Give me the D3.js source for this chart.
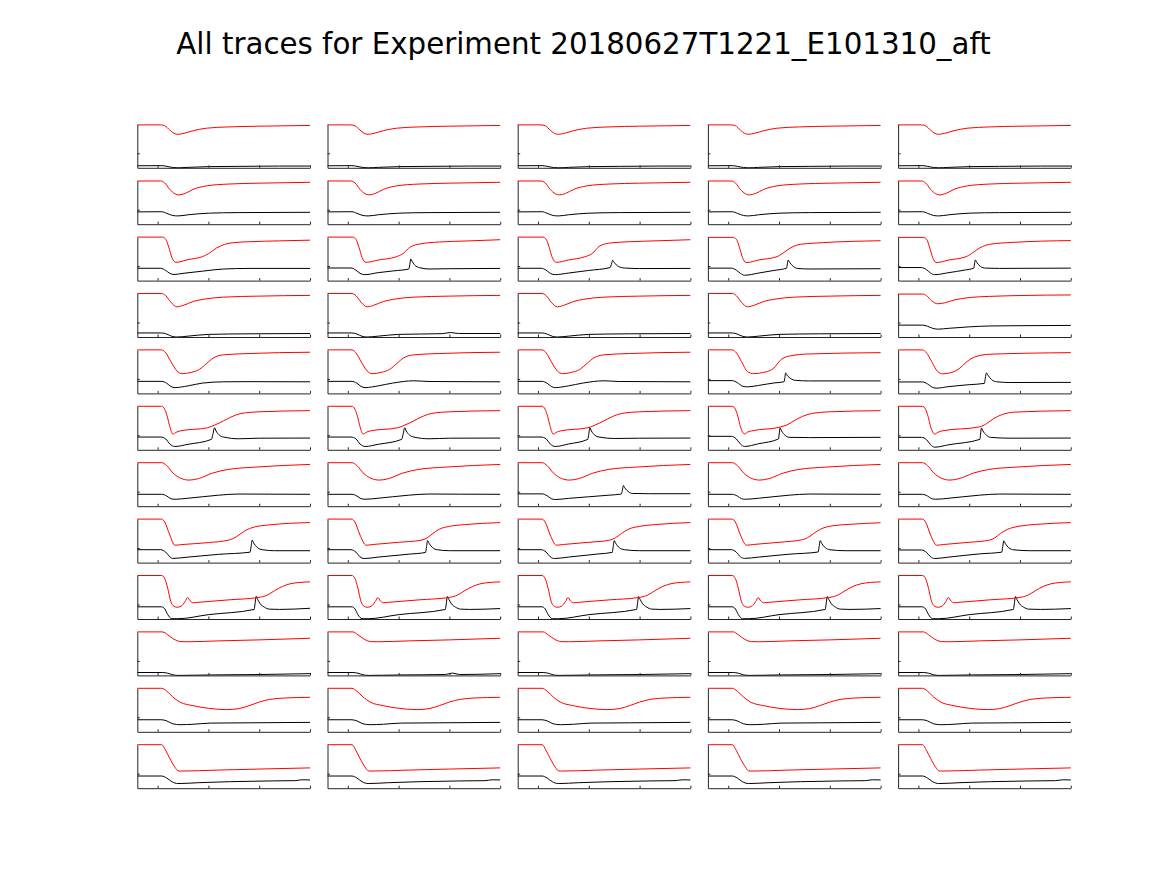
<!DOCTYPE html>
<html>
<head>
<meta charset="utf-8">
<script src="https://cdn.jsdelivr.net/npm/d3@7"></script>
<style>
  body { margin: 0; background: #fff; }
  svg { display: block; }
</style>
</head>
<body>
<div id="chart"></div>
<script>
// Textos
const TITLE = 'All traces for Experiment 20180627T1221_E101310_aft';
const X_TICKS = [0, 5, 10, 15];
const Y_TICKS = [1];

// Traços: pares [tempo, valor]
const R1_RED = [[-2,2.96],[0.3,2.96],[0.7,2.9],[1.2,2.6],[1.6,2.38],[2.0,2.31],[2.6,2.38],[3.5,2.56],[4.8,2.73],[7,2.82],[10,2.87],[15,2.92]];
const R1_BLK = [[-2,0.14],[0.4,0.15],[0.9,0.1],[1.5,0.02],[2.0,0.0],[3,0.03],[5,0.08],[8,0.1],[12,0.12],[15,0.12]];

const R2_RED = [[-2,2.98],[0.3,2.98],[0.7,2.85],[1.2,2.4],[1.7,2.1],[2.1,2.02],[2.7,2.12],[3.5,2.4],[4.8,2.64],[7,2.77],[10,2.83],[15,2.89]];
const R2_BLK = [[-2,0.85],[0.4,0.86],[0.9,0.75],[1.5,0.6],[2.0,0.57],[3,0.65],[5,0.76],[8,0.8],[15,0.82]];

const R3C1_RED = [[-2,3],[0.5,3],[0.8,2.85],[1.1,2.3],[1.4,1.6],[1.8,1.26],[3,1.45],[4.4,1.65],[5.0,1.85],[5.8,2.25],[6.6,2.5],[7.5,2.62],[9,2.68],[12,2.74],[15,2.79]];
const R3C1_BLK = [[-2,0.85],[0.3,0.85],[0.8,0.7],[1.2,0.5],[1.6,0.42],[2.5,0.5],[4.4,0.65],[6.5,0.8],[9,0.84],[15,0.84]];
const R3C2_RED = [[-2,3],[0.5,3],[0.8,2.85],[1.1,2.3],[1.4,1.6],[1.8,1.26],[3,1.42],[4.7,1.63],[5.5,1.9],[6.1,2.3],[7.2,2.54],[9,2.66],[12,2.74],[15,2.82]];
const R3C2_BLK = [[-2,0.87],[0.3,0.87],[0.8,0.72],[1.2,0.5],[1.65,0.41],[3,0.55],[4.5,0.67],[6.0,0.8],[6.1,1.1],[6.2,1.49],[6.35,1.3],[6.7,1.0],[7.2,0.87],[8,0.8],[10,0.82],[15,0.84]];
const R3C3_RED = [[-2,3],[0.5,3],[0.8,2.85],[1.1,2.3],[1.4,1.6],[1.8,1.26],[3,1.42],[4.6,1.64],[5.3,1.85],[6.1,2.4],[7.2,2.6],[9,2.68],[12,2.75],[15,2.82]];
const R3C3_BLK = [[-2,0.85],[0.3,0.85],[0.8,0.72],[1.2,0.5],[1.7,0.41],[3,0.52],[5,0.7],[7.1,0.9],[7.25,1.2],[7.35,1.4],[7.5,1.25],[7.9,0.98],[8.5,0.87],[10,0.83],[15,0.84]];
const R3C4_RED = [[-2,2.98],[0.45,2.98],[0.8,2.85],[1.1,2.3],[1.4,1.6],[1.76,1.24],[3,1.42],[4.8,1.65],[5.3,1.85],[5.8,2.1],[6.4,2.35],[7.1,2.5],[9.4,2.62],[15,2.75]];
const R3C4_BLK = [[-2,0.86],[0.3,0.86],[0.8,0.72],[1.2,0.5],[1.6,0.37],[3,0.52],[4.5,0.7],[5.75,0.86],[5.82,1.15],[5.9,1.42],[6.05,1.25],[6.4,0.98],[6.8,0.84],[8,0.8],[15,0.82]];
const R3C5_RED = [[-2,2.98],[0.45,2.98],[0.8,2.85],[1.1,2.3],[1.4,1.6],[1.74,1.24],[3,1.42],[4.7,1.65],[5.2,1.85],[5.7,2.1],[6.3,2.35],[7.0,2.5],[9.4,2.64],[15,2.76]];
const R3C5_BLK = [[-2,0.9],[0.3,0.9],[0.8,0.75],[1.2,0.52],[1.6,0.41],[3,0.55],[4.5,0.72],[5.45,0.86],[5.52,1.15],[5.6,1.42],[5.75,1.25],[6.1,0.98],[6.6,0.86],[8,0.84],[15,0.86]];

const R4_RED = [[-2,3],[0.4,3],[0.8,2.85],[1.3,2.4],[1.9,2.08],[2.6,2.2],[3.5,2.45],[4.5,2.6],[6.5,2.75],[10,2.82],[15,2.87]];
const R4_BLK = [[-2,0.28],[0.4,0.28],[0.9,0.2],[1.4,0.05],[1.9,0.0],[3,0.06],[5,0.18],[9,0.22],[15,0.24]];
const R4C2_BLK = [[-2,0.28],[0.4,0.28],[0.9,0.2],[1.4,0.05],[1.9,0.0],[3,0.06],[5,0.18],[9.3,0.23],[10.1,0.31],[10.9,0.24],[15,0.24]];
const R4C5_RED = [[-2,2.96],[0.4,2.96],[0.8,2.85],[1.3,2.5],[1.9,2.29],[2.6,2.36],[3.5,2.55],[5,2.72],[7,2.8],[10,2.86],[15,2.9]];
const R4C5_BLK = [[-2,0.82],[0.4,0.82],[0.9,0.74],[1.4,0.6],[1.9,0.54],[3,0.6],[5,0.7],[7,0.76],[10,0.78],[15,0.8]];

const R5_RED = [[-2,3],[0.4,3],[0.8,2.8],[1.3,2.2],[1.9,1.55],[2.4,1.36],[3.3,1.45],[4.1,1.65],[4.8,2.05],[5.5,2.45],[6.5,2.66],[9,2.75],[15,2.84]];
const R5_BLK = [[-2,0.83],[0.4,0.83],[0.9,0.7],[1.3,0.48],[1.7,0.4],[3,0.52],[4.4,0.71],[6.5,0.8],[9,0.81],[15,0.8]];
const R5C2_BLK = [[-2,0.83],[0.4,0.83],[0.9,0.7],[1.3,0.48],[1.7,0.4],[3,0.52],[4.4,0.71],[6.5,0.87],[8,0.82],[15,0.8]];
const R5C4_RED = [[-2,3],[0.4,3],[0.8,2.8],[1.3,2.2],[1.9,1.5],[2.5,1.36],[3.5,1.45],[4.5,1.75],[5.15,2.3],[6.1,2.59],[8,2.72],[15,2.81]];
const R5C4_BLK = [[-2,0.88],[0.4,0.88],[0.9,0.74],[1.4,0.5],[1.9,0.45],[3,0.55],[4.5,0.72],[5.5,0.8],[5.58,1.1],[5.65,1.41],[5.8,1.25],[6.2,1.0],[6.6,0.9],[8,0.86],[15,0.86]];
const R5C5_RED = [[-2,3],[0.4,3],[0.8,2.8],[1.3,2.2],[1.9,1.5],[2.4,1.35],[3.3,1.45],[4.0,1.7],[4.7,2.15],[5.5,2.5],[7,2.7],[15,2.81]];
const R5C5_BLK = [[-2,0.79],[0.4,0.79],[0.9,0.65],[1.3,0.45],[1.74,0.36],[3,0.47],[5,0.6],[6.5,0.69],[6.58,1.05],[6.7,1.41],[6.85,1.25],[7.2,0.95],[7.7,0.8],[9,0.75],[15,0.76]];

const R6_RED = [[-2,3],[0.4,3],[0.7,2.8],[0.95,2.3],[1.2,1.6],[1.5,1.08],[1.8,1.2],[2.2,1.3],[4.9,1.52],[5.6,1.7],[6.5,2.0],[7.2,2.25],[8.2,2.5],[10,2.62],[15,2.7]];
const R6C1_BLK = [[-2,0.88],[0.3,0.88],[0.8,0.75],[1.2,0.4],[1.7,0.23],[3,0.38],[5.3,0.72],[5.45,1.1],[5.6,1.52],[5.75,1.3],[6.1,1.0],[6.5,0.88],[8,0.76],[10,0.8],[15,0.81]];
const R6C3_BLK = [[-2,0.88],[0.3,0.88],[0.8,0.75],[1.2,0.4],[1.7,0.23],[3,0.4],[4.9,0.72],[5.0,1.1],[5.1,1.52],[5.25,1.3],[5.6,1.0],[6.0,0.88],[7.5,0.78],[10,0.8],[15,0.81]];
const R6C4_RED = [[-2,3],[0.4,3],[0.7,2.8],[0.95,2.3],[1.2,1.6],[1.6,1.09],[1.9,1.22],[2.3,1.3],[5.0,1.55],[5.8,1.72],[6.6,2.05],[7.3,2.3],[8.2,2.5],[10,2.62],[15,2.7]];
const R6C4_BLK = [[-2,0.93],[0.3,0.93],[0.8,0.75],[1.2,0.4],[1.6,0.23],[3,0.42],[4.95,0.75],[5.02,1.1],[5.1,1.5],[5.25,1.3],[5.6,1.0],[6.0,0.86],[8,0.84],[15,0.86]];
const R6C5_RED = [[-2,3],[0.4,3],[0.7,2.8],[0.95,2.3],[1.2,1.6],[1.6,1.08],[1.9,1.2],[2.3,1.3],[6.0,1.58],[6.7,1.8],[7.4,2.15],[8.2,2.42],[9.5,2.6],[15,2.7]];
const R6C5_BLK = [[-2,0.86],[0.3,0.86],[0.8,0.7],[1.2,0.35],[1.6,0.18],[3,0.35],[6.05,0.72],[6.12,1.1],[6.2,1.5],[6.35,1.3],[6.7,1.0],[7.1,0.86],[9,0.8],[15,0.81]];

const R7_RED = [[-2,3],[0.4,3],[0.9,2.8],[1.5,2.3],[2.2,1.95],[3.1,1.8],[4.0,1.9],[5.4,2.28],[6.9,2.53],[9.7,2.7],[15,2.88]];
const R7_BLK = [[-2,0.82],[0.4,0.82],[0.9,0.7],[1.3,0.52],[1.7,0.48],[3,0.55],[4.4,0.65],[6,0.76],[8,0.84],[11,0.83],[15,0.82]];
const R7C3_BLK = [[-2,0.85],[0.4,0.85],[0.9,0.72],[1.3,0.52],[1.7,0.46],[3,0.54],[5,0.65],[7,0.76],[8.2,0.84],[8.3,1.1],[8.4,1.42],[8.55,1.25],[8.9,1.0],[9.3,0.88],[11,0.86],[15,0.86]];

const R8C1_RED = [[-2,3],[0.4,3],[0.7,2.8],[1.2,1.9],[1.7,1.2],[2.5,1.25],[5,1.38],[7,1.55],[7.8,1.8],[8.6,2.2],[9.5,2.45],[11,2.6],[15,2.76]];
const R8C1_BLK = [[-2,0.89],[0.3,0.89],[0.8,0.72],[1.2,0.4],[1.5,0.29],[3,0.38],[6,0.57],[9.1,0.72],[9.2,1.1],[9.3,1.54],[9.45,1.35],[9.8,1.05],[10.3,0.89],[11.5,0.82],[15,0.82]];
const R8C2_RED = [[-2,3],[0.4,3],[0.7,2.8],[1.2,1.9],[1.8,1.2],[2.5,1.25],[5,1.4],[7.2,1.54],[7.8,1.7],[8.3,1.97],[9,2.3],[10,2.5],[11.5,2.62],[15,2.76]];
const R8C2_BLK = [[-2,0.89],[0.3,0.89],[0.8,0.72],[1.2,0.4],[1.6,0.28],[3,0.38],[6,0.58],[7.65,0.7],[7.75,1.1],[7.85,1.52],[8.0,1.33],[8.35,1.03],[8.8,0.89],[10,0.82],[15,0.82]];
const R8C3_RED = [[-2,3],[0.4,3],[0.7,2.8],[1.2,1.9],[1.8,1.2],[2.5,1.25],[5,1.4],[7.0,1.54],[7.6,1.7],[8.2,2.0],[8.9,2.3],[10,2.5],[11.5,2.62],[15,2.76]];
const R8C3_BLK = [[-2,0.89],[0.3,0.89],[0.8,0.72],[1.2,0.4],[1.6,0.28],[3,0.38],[6,0.6],[7.3,0.7],[7.4,1.1],[7.5,1.52],[7.65,1.33],[8.0,1.03],[8.5,0.89],[10,0.82],[15,0.82]];
const R8C4_RED = [[-2,3],[0.4,3],[0.7,2.8],[1.2,1.9],[1.8,1.2],[2.5,1.25],[5,1.4],[7.3,1.58],[7.8,1.71],[8.5,2.05],[9.1,2.31],[10.4,2.55],[12,2.64],[15,2.75]];
const R8C4_BLK = [[-2,0.89],[0.3,0.89],[0.8,0.72],[1.2,0.4],[1.6,0.29],[3,0.38],[6,0.58],[8.85,0.73],[8.95,1.1],[9.05,1.52],[9.2,1.33],[9.55,1.03],[10,0.89],[11.5,0.82],[15,0.82]];
const R8C5_RED = [[-2,3],[0.4,3],[0.7,2.8],[1.2,1.9],[1.8,1.2],[2.5,1.25],[5,1.4],[7.0,1.55],[7.5,1.7],[8.1,2.02],[8.8,2.3],[10,2.52],[11.5,2.63],[15,2.76]];
const R8C5_BLK = [[-2,0.87],[0.3,0.87],[0.8,0.7],[1.2,0.4],[1.6,0.28],[3,0.38],[6,0.6],[8.2,0.72],[8.3,1.1],[8.4,1.5],[8.55,1.32],[8.9,1.02],[9.4,0.88],[11,0.82],[15,0.82]];

const R9_RED = [[-2,3],[0.4,3],[0.7,2.8],[1.0,2.1],[1.3,1.2],[1.6,0.88],[1.9,0.81],[2.3,0.88],[2.7,1.2],[2.95,1.48],[3.2,1.25],[3.5,1.12],[4,1.15],[7,1.32],[9.9,1.48],[10.8,1.65],[11.5,1.95],[12.3,2.25],[13,2.42],[14,2.52],[15,2.56]];
const R9C1_BLK = [[-2,0.84],[0.4,0.84],[0.7,0.7],[1.0,0.3],[1.4,0.02],[2,0.02],[5,0.3],[9.5,0.66],[9.6,1.1],[9.7,1.57],[9.85,1.35],[10.1,1.05],[10.5,0.82],[11,0.68],[12,0.66],[15,0.74]];
const R9C2_BLK = [[-2,0.84],[0.4,0.84],[0.7,0.7],[1.0,0.3],[1.4,0.02],[2,0.02],[5,0.3],[9.6,0.66],[9.7,1.1],[9.8,1.55],[9.95,1.35],[10.2,1.05],[10.6,0.82],[11.1,0.68],[12,0.66],[15,0.72]];
const R9C3_BLK = [[-2,0.84],[0.4,0.84],[0.7,0.7],[1.0,0.3],[1.4,0.02],[2,0.02],[5,0.3],[9.7,0.66],[9.8,1.1],[9.9,1.55],[10.05,1.35],[10.3,1.05],[10.7,0.82],[11.2,0.68],[12,0.66],[15,0.72]];
const R9C4_BLK = [[-2,0.84],[0.4,0.84],[0.7,0.7],[1.0,0.3],[1.4,0.02],[2,0.02],[5,0.3],[9.55,0.66],[9.65,1.1],[9.75,1.55],[9.9,1.35],[10.15,1.05],[10.55,0.82],[11.05,0.68],[12,0.66],[15,0.72]];
const R9C5_BLK = [[-2,0.84],[0.4,0.84],[0.7,0.7],[1.0,0.3],[1.4,0.02],[2,0.02],[5,0.3],[9.35,0.66],[9.45,1.1],[9.55,1.55],[9.7,1.35],[9.95,1.05],[10.35,0.82],[10.85,0.68],[12,0.66],[15,0.72]];

const R10_RED = [[-2,3],[0.5,3],[1.0,2.8],[1.6,2.5],[2.3,2.33],[3,2.32],[6,2.38],[10,2.45],[15,2.56]];
const R10_BLK = [[-2,0.2],[0.5,0.2],[1.0,0.15],[1.5,0.04],[2,0.0],[5,0.03],[10,0.06],[15,0.12]];
const R10C2_BLK = [[-2,0.2],[0.5,0.2],[1.0,0.15],[1.5,0.04],[2,0.0],[5,0.03],[9.6,0.06],[10.3,0.16],[11,0.06],[15,0.12]];

const R11_RED = [[-2,3],[0.4,3],[0.9,2.8],[1.5,2.4],[2.2,2.05],[3.5,1.8],[5,1.62],[6.8,1.53],[8,1.6],[9,1.8],[10,2.05],[11,2.23],[12.5,2.33],[15,2.38]];
const R11_BLK = [[-2,0.83],[0.4,0.83],[0.9,0.75],[1.5,0.55],[2.2,0.49],[3.5,0.52],[5.2,0.6],[9,0.62],[15,0.65]];

const R12_RED = [[-2,3],[0.4,3],[0.8,2.6],[1.2,2.05],[1.7,1.45],[2.0,1.2],[2.2,1.18],[6,1.25],[10,1.32],[15,1.4]];
const R12_BLK = [[-2,0.84],[0.4,0.84],[0.9,0.7],[1.4,0.45],[2,0.32],[4,0.38],[7.1,0.45],[11,0.5],[13.5,0.52],[14.2,0.58],[15,0.57]];

// Grade 12 x 5: [vermelho, preto]
const grid = [
  [[R1_RED,R1_BLK],[R1_RED,R1_BLK],[R1_RED,R1_BLK],[R1_RED,R1_BLK],[R1_RED,R1_BLK]],
  [[R2_RED,R2_BLK],[R2_RED,R2_BLK],[R2_RED,R2_BLK],[R2_RED,R2_BLK],[R2_RED,R2_BLK]],
  [[R3C1_RED,R3C1_BLK],[R3C2_RED,R3C2_BLK],[R3C3_RED,R3C3_BLK],[R3C4_RED,R3C4_BLK],[R3C5_RED,R3C5_BLK]],
  [[R4_RED,R4_BLK],[R4_RED,R4C2_BLK],[R4_RED,R4_BLK],[R4_RED,R4_BLK],[R4C5_RED,R4C5_BLK]],
  [[R5_RED,R5_BLK],[R5_RED,R5C2_BLK],[R5_RED,R5C2_BLK],[R5C4_RED,R5C4_BLK],[R5C5_RED,R5C5_BLK]],
  [[R6_RED,R6C1_BLK],[R6_RED,R6C1_BLK],[R6_RED,R6C3_BLK],[R6C4_RED,R6C4_BLK],[R6C5_RED,R6C5_BLK]],
  [[R7_RED,R7_BLK],[R7_RED,R7_BLK],[R7_RED,R7C3_BLK],[R7_RED,R7_BLK],[R7_RED,R7_BLK]],
  [[R8C1_RED,R8C1_BLK],[R8C2_RED,R8C2_BLK],[R8C3_RED,R8C3_BLK],[R8C4_RED,R8C4_BLK],[R8C5_RED,R8C5_BLK]],
  [[R9_RED,R9C1_BLK],[R9_RED,R9C2_BLK],[R9_RED,R9C3_BLK],[R9_RED,R9C4_BLK],[R9_RED,R9C5_BLK]],
  [[R10_RED,R10_BLK],[R10_RED,R10C2_BLK],[R10_RED,R10_BLK],[R10_RED,R10_BLK],[R10_RED,R10_BLK]],
  [[R11_RED,R11_BLK],[R11_RED,R11_BLK],[R11_RED,R11_BLK],[R11_RED,R11_BLK],[R11_RED,R11_BLK]],
  [[R12_RED,R12_BLK],[R12_RED,R12_BLK],[R12_RED,R12_BLK],[R12_RED,R12_BLK],[R12_RED,R12_BLK]]
];

// Layout
const width = 1167, height = 875;
const left0 = 137.3, top0 = 124.3;
const colStep = 190.2, rowStep = 56.4;
const pw = 172.7, ph = 43.5;
const axisColor = '#262626';

const svg = d3.select('#chart').append('svg')
  .attr('width', width)
  .attr('height', height);

svg.append('rect').attr('width', width).attr('height', height).attr('fill', '#fff');

svg.append('text')
  .attr('x', width / 2)
  .attr('y', 54)
  .attr('text-anchor', 'middle')
  .style('font-family', 'DejaVu Sans, sans-serif')
  .style('font-size', '29.3px')
  .attr('fill', '#000')
  .text(TITLE);

const x = d3.scaleLinear().domain([-2, 15]).range([0, pw]);
const y = d3.scaleLinear().domain([0, 3]).range([ph, 0]);

const line = d3.line()
  .x(d => x(d[0]))
  .y(d => y(d[1]))
  .curve(d3.curveMonotoneX);

grid.forEach((row, r) => {
  row.forEach(([red, blk], c) => {
    const g = svg.append('g')
      .attr('transform', `translate(${left0 + c * colStep},${top0 + r * rowStep})`);

    g.append('path').datum(blk)
      .attr('d', line).attr('fill', 'none')
      .attr('stroke', '#000').attr('stroke-width', 1);
    g.append('path').datum(red)
      .attr('d', line).attr('fill', 'none')
      .attr('stroke', '#ff0000').attr('stroke-width', 1);

    const xa = g.append('g')
      .attr('transform', `translate(0,${ph})`)
      .call(d3.axisBottom(x).tickValues(X_TICKS).tickSize(-2.5).tickSizeOuter(0).tickFormat(''));
    const ya = g.append('g')
      .call(d3.axisLeft(y).tickValues(Y_TICKS).tickSize(-2.5).tickSizeOuter(0).tickFormat(''));
    [xa, ya].forEach(a => {
      a.selectAll('path,line').attr('stroke', axisColor).attr('stroke-width', 1);
    });
  });
});
</script>
</body>
</html>
